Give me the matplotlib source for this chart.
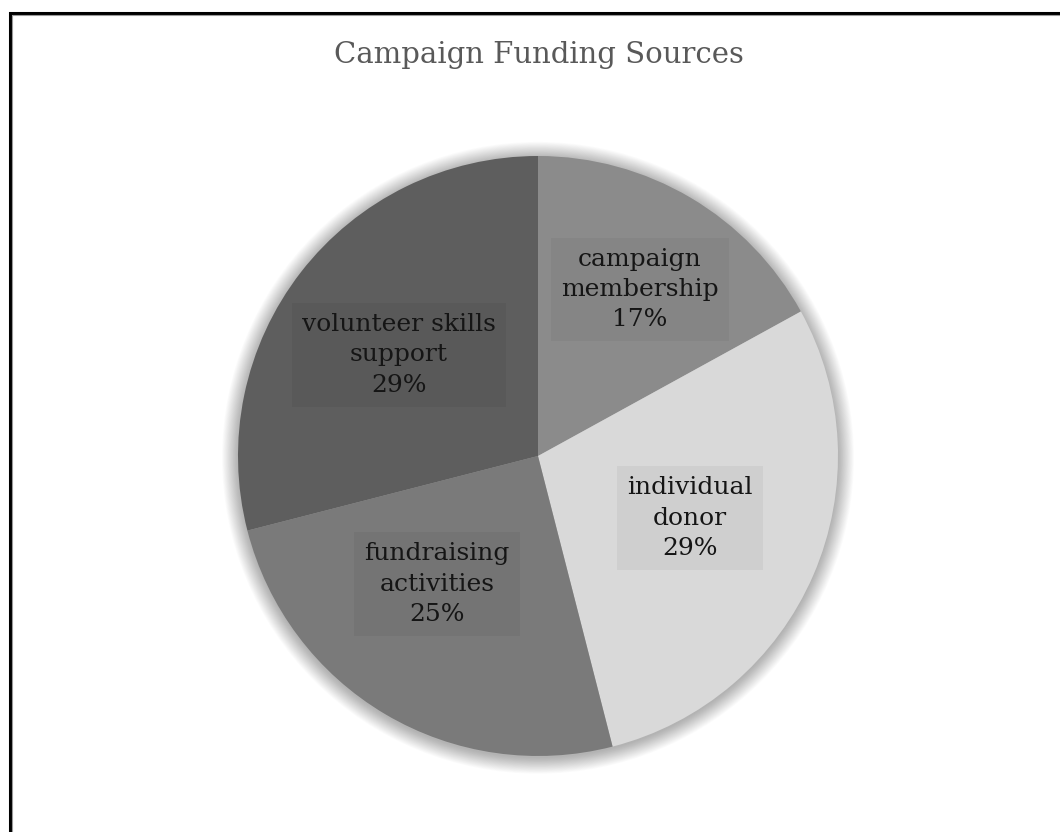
import matplotlib
matplotlib.use("Agg")
import matplotlib.pyplot as plt
from matplotlib.patches import Circle, Rectangle

categories = ["campaign\nmembership", "individual\ndonor", "fundraising\nactivities", "volunteer skills\nsupport"]
shares = [17, 29, 25, 29]
colors = ["#8b8b8b", "#d9d9d9", "#7a7a7a", "#5e5e5e"]
title = "Campaign Funding Sources"

# label centres in pie units (radius = 1)
label_pos = [(0.34, 0.555), (0.507, -0.207), (-0.337, -0.427), (-0.463, 0.337)]

W, H = 1060, 832
fig = plt.figure(figsize=(W / 100, H / 100), dpi=100)
fig.patch.set_facecolor("white")

# outer frame: only top and left edges fall inside the image
fig.add_artist(Rectangle((9.5 / W, -0.1), 1.2, 1.1 - 12.5 / H, transform=fig.transFigure,
                         fill=False, edgecolor="black", linewidth=2.2, zorder=5))
fig.add_artist(Rectangle((11.8 / W, -0.1), 1.2, 1.1 - 14.8 / H, transform=fig.transFigure,
                         fill=False, edgecolor="#9a9a9a", linewidth=0.8, zorder=5))

ax = fig.add_axes([238 / W, (H - 756) / H, 600 / W, 600 / H])
ax.axis("off")

# soft shadow around the pie
for i in range(20):
    ax.add_patch(Circle((0, -0.006), 1.0 + i * 0.0028, facecolor="black", edgecolor="none",
                        alpha=0.014, zorder=0, clip_on=False))

wedges, _ = ax.pie(shares, colors=colors, startangle=90, counterclock=False, radius=1.0,
                   wedgeprops={"linewidth": 0})
for w in wedges:
    w.set_zorder(2)
ax.set_xlim(-1, 1)
ax.set_ylim(-1, 1)
ax.set_aspect("equal")

total = sum(shares)
for name, val, (x, y) in zip(categories, shares, label_pos):
    ax.text(x, y, f"{name}\n{round(100 * val / total)}%", ha="center", va="center",
            fontsize=18, family="DejaVu Serif", color="#151515", linespacing=1.4, zorder=4,
            bbox=dict(boxstyle="square,pad=0.4", facecolor="black", edgecolor="none", alpha=0.045))

fig.text(539 / W, 1 - 55 / H, title, ha="center", va="center", fontsize=21,
         family="DejaVu Serif", color="#595959")

fig.savefig("out.png", dpi=100, facecolor="white")
